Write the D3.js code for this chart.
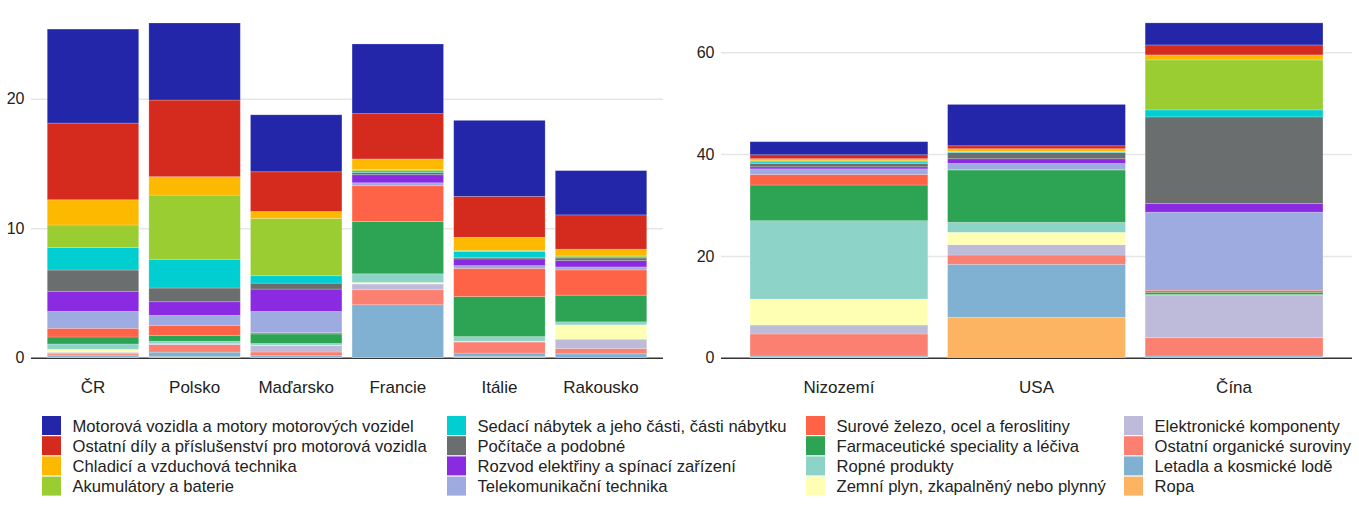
<!DOCTYPE html>
<html>
<head>
<meta charset="utf-8">
<script src="https://cdn.jsdelivr.net/npm/d3@7"></script>
<style>
  html, body { margin: 0; padding: 0; background: #fff; }
  svg { display: block; font-family: "Liberation Sans", Arial, sans-serif; }
</style>
</head>
<body>
<svg id="chart" width="1359" height="510"></svg>
<script>
// ---- DATA ----
const countriesLeft = ["ČR", "Polsko", "Maďarsko", "Francie", "Itálie", "Rakousko"];
const countriesRight = ["Nizozemí", "USA", "Čína"];
const ticksLeft = [0, 10, 20];
const ticksRight = [0, 20, 40, 60];

const seriesNames = [
  "Motorová vozidla a motory motorových vozidel",
  "Ostatní díly a příslušenství pro motorová vozidla",
  "Chladicí a vzduchová technika",
  "Akumulátory a baterie",
  "Sedací nábytek a jeho části, části nábytku",
  "Počítače a podobné",
  "Rozvod elektřiny a spínací zařízení",
  "Telekomunikační technika",
  "Surové železo, ocel a feroslitiny",
  "Farmaceutické speciality a léčiva",
  "Ropné produkty",
  "Zemní plyn, zkapalněný nebo plynný",
  "Elektronické komponenty",
  "Ostatní organické suroviny",
  "Letadla a kosmické lodě",
  "Ropa"
];
const seriesColors = [
  "#2326a8", "#d52b1e", "#fdb900", "#9acd32", "#00ced1", "#6b6e6e", "#8a2be2", "#9eabe0",
  "#ff6347", "#2ca453", "#8dd3c7", "#ffffb3", "#bebada", "#fb8072", "#80b1d3", "#fdb462"
];

// values per series, order: ČR, Polsko, Maďarsko, Francie, Itálie, Rakousko | Nizozemí, USA, Čína
const motorova      = [7.26, 5.95, 4.40, 5.38, 5.87, 3.42,   2.56,  8.12,  4.33];
const ostatniDily   = [5.92, 5.92, 3.07, 3.50, 3.16, 2.65,   0.78,  0.59,  1.96];
const chladici      = [1.95, 1.42, 0.54, 0.82, 1.01, 0.52,   0.40,  0.53,  0.98];
const akumulatory   = [1.73, 4.96, 4.42, 0.10, 0.08, 0.08,   0.25,  0.10,  9.83];
const sedaci        = [1.75, 2.22, 0.57, 0.12, 0.46, 0.08,   0.30,  0.10,  1.37];
const pocitace      = [1.64, 1.06, 0.46, 0.18, 0.12, 0.20,   0.65,  1.23, 17.03];
const rozvod        = [1.55, 1.05, 1.73, 0.62, 0.52, 0.49,   0.40,  0.93,  1.69];
const telekom       = [1.31, 0.77, 1.64, 0.23, 0.21, 0.23,   1.10,  1.23, 15.33];
const surove        = [0.67, 0.77, 0.10, 2.76, 2.18, 1.95,   2.07,  0.05,  0.39];
const farma         = [0.54, 0.46, 0.73, 4.04, 3.09, 2.06,   7.01, 10.28,  0.47];
const ropneProdukty = [0.41, 0.19, 0.12, 0.67, 0.36, 0.23,  15.39,  1.96,  0.05];
const zemniPlyn     = [0.23, 0.02, 0.02, 0.12, 0.03, 1.11,   5.11,  2.44,  0.02];
const elektronicke  = [0.13, 0.05, 0.52, 0.44, 0.03, 0.72,   1.76,  2.02,  8.40];
const ostatniOrg    = [0.14, 0.58, 0.29, 1.16, 0.85, 0.41,   4.33,  1.83,  3.60];
const letadla       = [0.12, 0.35, 0.12, 4.07, 0.28, 0.29,   0.20, 10.41,  0.30];
const ropa          = [0.03, 0.08, 0.03, 0.02, 0.08, 0.01,   0.13,  7.94,  0.03];

const seriesValues = [motorova, ostatniDily, chladici, akumulatory, sedaci, pocitace, rozvod, telekom,
  surove, farma, ropneProdukty, zemniPlyn, elektronicke, ostatniOrg, letadla, ropa];

// ---- BUILD TABLES ----
const allCountries = countriesLeft.concat(countriesRight);
const table = allCountries.map((c, i) => {
  const row = { country: c };
  seriesNames.forEach((s, j) => { row[s] = seriesValues[j][i]; });
  return row;
});
// stack bottom-up: last legend item at bottom
const stackKeys = seriesNames.slice().reverse();
const stack = d3.stack().keys(stackKeys);
const color = d3.scaleOrdinal(seriesNames, seriesColors);

const svg = d3.select("#chart");
const baseY = 357.7, topY = 23;

function panel(countries, x0, x1, yMax, ticks, pOuter) {
  const data = table.filter(r => countries.includes(r.country));
  const x = d3.scaleBand(countries, [x0, x1]).paddingInner(0.1).paddingOuter(pOuter);
  const y = d3.scaleLinear([0, yMax], [baseY, topY]);
  const g = svg.append("g");

  // y axis with gridlines
  const ya = g.append("g")
    .attr("transform", `translate(${x0},0)`)
    .call(d3.axisLeft(y).tickValues(ticks).tickSize(-(x1 - x0)).tickPadding(6.5).tickFormat(d3.format("d")));
  ya.select(".domain").remove();
  ya.selectAll(".tick line")
    .attr("stroke", d => d === 0 ? "#333" : "#e6e6e6")
    .attr("stroke-width", 1.5);
  ya.selectAll(".tick text")
    .attr("fill", "#222")
    .style("font-size", "16px")
    .style("font-family", "'Liberation Sans', Arial, sans-serif");

  // bars
  const series = stack(data);
  g.append("g").selectAll("g")
    .data(series).join("g")
    .attr("fill", d => color(d.key))
    .selectAll("rect")
    .data(d => d).join("rect")
    .attr("x", d => x(d.data.country))
    .attr("width", x.bandwidth())
    .attr("y", d => y(d[1]))
    .attr("height", d => Math.max(0, y(d[0]) - y(d[1])))
    .attr("stroke", "#ffffff")
    .attr("stroke-opacity", 0.25)
    .attr("stroke-width", 0.8);

  // x axis labels
  const xa = g.append("g")
    .attr("transform", `translate(0,${baseY})`)
    .call(d3.axisBottom(x).tickSize(0).tickPadding(23.3));
  xa.select(".domain").remove();
  xa.selectAll(".tick text")
    .attr("fill", "#222")
    .style("font-size", "17px")
    .style("font-family", "'Liberation Sans', Arial, sans-serif");
}

panel(countriesLeft, 31, 663, 25.85, ticksLeft, 0.16);
panel(countriesRight, 721, 1352, 65.76, ticksRight, 0.147);

// ---- LEGEND ----
const legendColX = [42, 447, 806, 1124];
const legend = svg.append("g");
seriesNames.forEach((name, i) => {
  const col = Math.floor(i / 4), row = i % 4;
  const lx = legendColX[col], ly = 416 + row * 20.2;
  const it = legend.append("g").attr("transform", `translate(${lx},${ly})`);
  it.append("rect").attr("width", 19).attr("height", 19).attr("fill", color(name));
  it.append("text")
    .attr("x", 30.5).attr("y", 15.6)
    .attr("fill", "#222")
    .style("font-size", "16.6px")
    .text(name);
});
</script>
</body>
</html>
